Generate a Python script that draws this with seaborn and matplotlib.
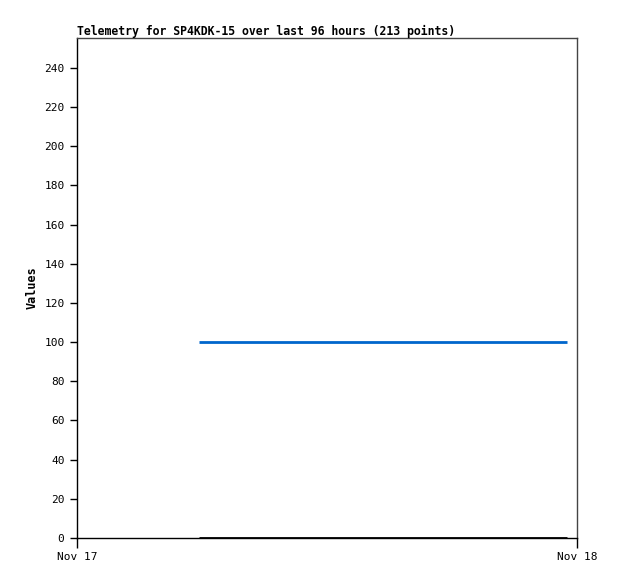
import matplotlib
matplotlib.use("Agg")
import matplotlib.pyplot as plt
import seaborn as sns
import pandas as pd

sns.set_style("white")
plt.rcParams['font.family'] = ['DejaVu Sans Mono']
plt.rcParams['text.color'] = 'black'
plt.rcParams['axes.labelcolor'] = 'black'
plt.rcParams['xtick.color'] = 'black'
plt.rcParams['ytick.color'] = 'black'

title = "Telemetry for SP4KDK-15 over last 96 hours (213 points)"
times = ["2023-11-17 05:51", "2023-11-17 23:31"]
series_a = [100, 100]   # blue
series_b = [0, 0]       # black
x_start, x_end = "2023-11-17 00:00", "2023-11-18 00:00"
x_tick_labels = ["Nov 17", "Nov 18"]
y_ticks = list(range(0, 241, 20))

t = pd.to_datetime(times)
df = pd.DataFrame({"time": list(t) * 2,
                   "value": series_a + series_b,
                   "series": ["a"] * len(t) + ["b"] * len(t)})

fig = plt.figure(figsize=(6.18, 5.79), dpi=100)
ax = fig.add_axes([77/618, 41/579, 500/618, 500/579])
sns.lineplot(data=df, x="time", y="value", hue="series",
             palette={"a": "#0066cc", "b": "#000000"}, linewidth=2,
             legend=False, ax=ax)
for ln in ax.lines:
    ln.set_solid_capstyle('butt')

xs = pd.to_datetime([x_start, x_end])
ax.set_xlim(xs[0], xs[1])
ax.set_ylim(0, 255.3)
ax.set_xticks(xs)
ax.set_xticklabels(x_tick_labels, fontsize=8)
ax.set_yticks(y_ticks)
ax.set_yticklabels([str(v) for v in y_ticks], fontsize=8)
ax.tick_params(axis='x', direction='out', length=7, width=1, color='black', pad=3, bottom=True, labelcolor='black')
ax.tick_params(axis='y', direction='out', length=5, width=1, color='black', pad=4, left=True, labelcolor='black')
ax.set_xlabel("")
ax.set_ylabel("Values", fontsize=8.5, fontweight='bold', labelpad=4, color='black')
ax.set_title(title, loc='left', fontsize=8.3, fontweight='bold', pad=2, color='black')

for side in ['left', 'bottom']:
    ax.spines[side].set_color('black')
    ax.spines[side].set_linewidth(1)
for side in ['top', 'right']:
    ax.spines[side].set_color('#444444')
    ax.spines[side].set_linewidth(1)

fig.savefig("out.png", dpi=100)
